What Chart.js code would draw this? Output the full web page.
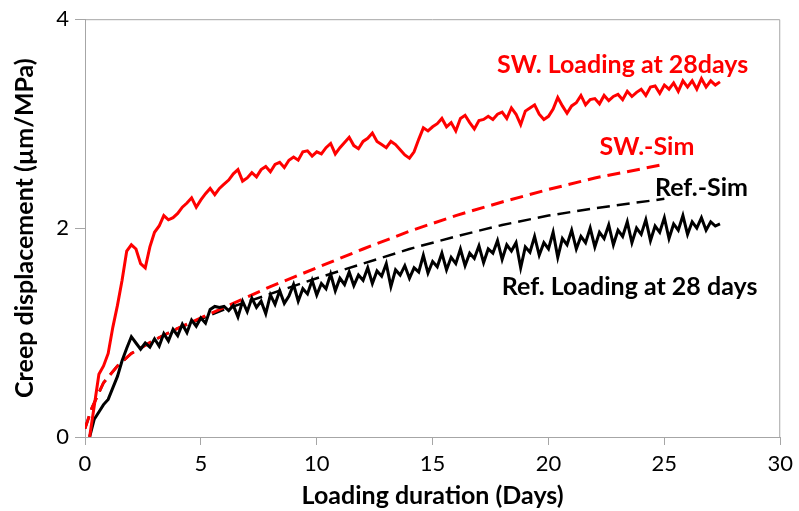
<!DOCTYPE html>
<html lang="en">
<head>
    <meta charset="UTF-8">
    <title>Creep displacement</title>
    <script src="https://cdn.jsdelivr.net/npm/chart.js"></script>
    <style>
        body { margin: 0; background: #fff; }
    </style>
</head>
<body>
    <canvas id="myChart" width="799" height="511"></canvas>

    <script>
        // measured series share the same sampling days
        const expDays = [
            0.2, 0.4, 0.6, 0.8, 1.0, 1.2, 1.4, 1.6, 1.8, 2.0, 2.2, 2.4, 2.6, 2.8, 3.0, 3.2, 3.4, 3.6, 3.8, 4.0,
            4.2, 4.4, 4.6, 4.8, 5.0, 5.2, 5.4, 5.6, 5.8, 6.0, 6.2, 6.4, 6.6, 6.8, 7.0, 7.2, 7.4, 7.6, 7.8, 8.0,
            8.2, 8.4, 8.6, 8.8, 9.0, 9.2, 9.4, 9.6, 9.8, 10.0, 10.2, 10.4, 10.6, 10.8, 11.0, 11.2, 11.4, 11.6, 11.8, 12.0,
            12.2, 12.4, 12.6, 12.8, 13.0, 13.2, 13.4, 13.6, 13.8, 14.0, 14.2, 14.4, 14.6, 14.8, 15.0, 15.2, 15.4, 15.6, 15.8, 16.0,
            16.2, 16.4, 16.6, 16.8, 17.0, 17.2, 17.4, 17.6, 17.8, 18.0, 18.2, 18.4, 18.6, 18.8, 19.0, 19.2, 19.4, 19.6, 19.8, 20.0,
            20.2, 20.4, 20.6, 20.8, 21.0, 21.2, 21.4, 21.6, 21.8, 22.0, 22.2, 22.4, 22.6, 22.8, 23.0, 23.2, 23.4, 23.6, 23.8, 24.0,
            24.2, 24.4, 24.6, 24.8, 25.0, 25.2, 25.4, 25.6, 25.8, 26.0, 26.2, 26.4, 26.6, 26.8, 27.0, 27.2, 27.4
        ];

        const swLoading = [
            0.0, 0.3, 0.6, 0.68, 0.8, 1.05, 1.26, 1.5, 1.78, 1.84, 1.8, 1.66, 1.62, 1.82, 1.96, 2.02, 2.12, 2.08, 2.1, 2.14,
            2.2, 2.24, 2.29, 2.2, 2.27, 2.33, 2.38, 2.32, 2.38, 2.42, 2.46, 2.52, 2.56, 2.45, 2.48, 2.53, 2.49, 2.56, 2.59, 2.54,
            2.61, 2.63, 2.58, 2.65, 2.68, 2.65, 2.73, 2.74, 2.69, 2.73, 2.71, 2.77, 2.81, 2.71, 2.77, 2.82, 2.87, 2.79, 2.76, 2.83,
            2.86, 2.91, 2.83, 2.8, 2.77, 2.83, 2.8, 2.75, 2.7, 2.67, 2.73, 2.85, 2.96, 2.93, 2.97, 3.0, 3.05, 2.97, 3.01, 2.93,
            3.05, 3.08, 3.01, 2.95, 3.03, 3.04, 3.07, 3.04, 3.09, 3.11, 3.05, 3.15, 3.09, 2.99, 3.12, 3.15, 3.18, 3.09, 3.04, 3.07,
            3.14, 3.25, 3.17, 3.1, 3.17, 3.2, 3.27, 3.18, 3.23, 3.24, 3.19, 3.27, 3.22, 3.26, 3.28, 3.23, 3.31, 3.26, 3.3, 3.33,
            3.27, 3.35, 3.36, 3.29, 3.37, 3.33, 3.39, 3.31, 3.41, 3.35, 3.41, 3.33, 3.43, 3.35, 3.41, 3.37, 3.4
        ];

        const refLoading = [
            0.0, 0.17, 0.24, 0.31, 0.36, 0.47, 0.58, 0.73, 0.85, 0.96, 0.9, 0.84, 0.9, 0.86, 0.94, 0.87, 0.99, 0.92, 1.03, 0.97,
            1.08, 1.0, 1.12, 1.06, 1.14, 1.09, 1.22, 1.25, 1.24, 1.25, 1.21, 1.26, 1.15, 1.3, 1.2, 1.33, 1.24, 1.3, 1.18, 1.36,
            1.27, 1.4, 1.28, 1.35, 1.46, 1.3, 1.42, 1.37, 1.5, 1.36, 1.47, 1.42, 1.56, 1.4, 1.52, 1.46, 1.58, 1.45, 1.55, 1.5,
            1.62, 1.47, 1.59, 1.54, 1.66, 1.44, 1.6, 1.55, 1.64, 1.52, 1.62, 1.58, 1.74, 1.57, 1.68, 1.63, 1.76, 1.6, 1.72, 1.66,
            1.8, 1.64, 1.76, 1.71, 1.83, 1.67, 1.8, 1.76, 1.88, 1.7, 1.84, 1.78, 1.86, 1.62, 1.82, 1.77, 1.92, 1.74, 1.86, 1.8,
            1.96, 1.72, 1.9, 1.84, 1.98, 1.8, 1.92, 1.86, 2.0, 1.82, 1.96, 1.9, 2.03, 1.84, 1.98, 1.92, 2.06, 1.86, 2.0, 1.94,
            2.08, 1.88, 2.02, 1.96, 2.1, 1.9, 2.04, 1.98, 2.12, 1.94, 2.06, 2.0, 2.1, 1.98, 2.06, 2.02, 2.04
        ];

        const swSimDays = [0, 0.3, 0.8, 1.4, 2, 3, 4, 5, 6, 7, 8, 10, 12, 14, 16, 18, 20, 22, 25];
        const swSim = [0.08, 0.28, 0.52, 0.68, 0.8, 0.93, 1.04, 1.14, 1.24, 1.34, 1.44, 1.62, 1.8, 1.97, 2.12, 2.25, 2.37, 2.48, 2.61];

        const refSimDays = [0, 0.3, 0.8, 1.4, 2, 3, 4, 5, 6, 8, 10, 12, 14, 16, 18, 20, 22, 25];
        const refSim = [0.08, 0.28, 0.52, 0.68, 0.8, 0.93, 1.04, 1.13, 1.22, 1.37, 1.52, 1.66, 1.8, 1.92, 2.03, 2.12, 2.19, 2.28];

        const xTicks = [0, 5, 10, 15, 20, 25, 30];
        const yTicks = [0, 2, 4];

        const pts = (xs, ys) => xs.map((x, i) => ({ x: x, y: ys[i] }));

        // labels written next to the curves, in data coordinates
        const curveLabels = [
            { text: 'SW. Loading at 28days', x: 23.2, y: 3.56, color: '#ff0000' },
            { text: 'SW.-Sim', x: 24.25, y: 2.78, color: '#ff0000' },
            { text: 'Ref.-Sim', x: 26.6, y: 2.38, color: '#000000' },
            { text: 'Ref. Loading at 28 days', x: 23.5, y: 1.44, color: '#000000' }
        ];

        const framePlugin = {
            id: 'frame',
            afterDraw(chart) {
                const { ctx, chartArea: a, scales } = chart;
                ctx.save();
                ctx.strokeStyle = '#a6a6a6';
                ctx.lineWidth = 1;
                ctx.beginPath();
                ctx.moveTo(a.left, a.top + 0.5);
                ctx.lineTo(a.right - 0.5, a.top + 0.5);
                ctx.lineTo(a.right - 0.5, a.bottom);
                ctx.stroke();

                ctx.font = 'bold 25px Lato';
                ctx.textAlign = 'center';
                ctx.textBaseline = 'middle';
                curveLabels.forEach(l => {
                    ctx.fillStyle = l.color;
                    ctx.fillText(l.text, scales.x.getPixelForValue(l.x), scales.y.getPixelForValue(l.y));
                });
                ctx.restore();
            }
        };

        const data = {
            datasets: [
                {
                    label: 'SW. Loading at 28days',
                    data: pts(expDays, swLoading),
                    borderColor: '#ff0000',
                    borderWidth: 3
                },
                {
                    label: 'Ref. Loading at 28 days',
                    data: pts(expDays, refLoading),
                    borderColor: '#000000',
                    borderWidth: 3
                },
                {
                    label: 'SW.-Sim',
                    data: pts(swSimDays, swSim),
                    borderColor: '#ff0000',
                    borderWidth: 3,
                    borderDash: [13, 7]
                },
                {
                    label: 'Ref.-Sim',
                    data: pts(refSimDays, refSim),
                    borderColor: '#000000',
                    borderWidth: 2.5,
                    borderDash: [13, 7]
                }
            ]
        };

        const config = {
            type: 'line',
            data: data,
            options: {
                responsive: false,
                animation: false,
                layout: { padding: { left: 0, top: 16, right: 15, bottom: 0 } },
                elements: { point: { radius: 0 }, line: { tension: 0 } },
                plugins: {
                    legend: { display: false },
                    tooltip: { enabled: false }
                },
                scales: {
                    x: {
                        type: 'linear',
                        min: 0,
                        max: 30,
                        afterBuildTicks: s => { s.ticks = xTicks.map(v => ({ value: v })); },
                        afterFit: s => { s.height = 74; },
                        grid: { drawOnChartArea: false, tickLength: 8, color: '#a6a6a6' },
                        border: { color: '#a6a6a6' },
                        ticks: { color: '#000', padding: 6, font: { family: 'Lato', size: 22 }, maxRotation: 0 },
                        title: {
                            display: true,
                            text: 'Loading duration (Days)',
                            color: '#000',
                            font: { family: 'Lato', size: 25, weight: 'bold' },
                            padding: { top: 0, bottom: 0 }
                        }
                    },
                    y: {
                        min: 0,
                        max: 4,
                        afterBuildTicks: s => { s.ticks = yTicks.map(v => ({ value: v })); },
                        afterFit: s => { s.width = 85; },
                        grid: { drawOnChartArea: false, tickLength: 10, color: '#a6a6a6' },
                        border: { color: '#a6a6a6' },
                        ticks: { color: '#000', padding: 6, font: { family: 'Lato', size: 22 } },
                        title: {
                            display: true,
                            text: 'Creep displacement (µm/MPa)',
                            color: '#000',
                            font: { family: 'Lato', size: 25, weight: 'bold' },
                            padding: { top: 10, bottom: 4 }
                        }
                    }
                }
            },
            plugins: [framePlugin]
        };

        var myChart = new Chart(document.getElementById('myChart'), config);
    </script>
</body>
</html>
